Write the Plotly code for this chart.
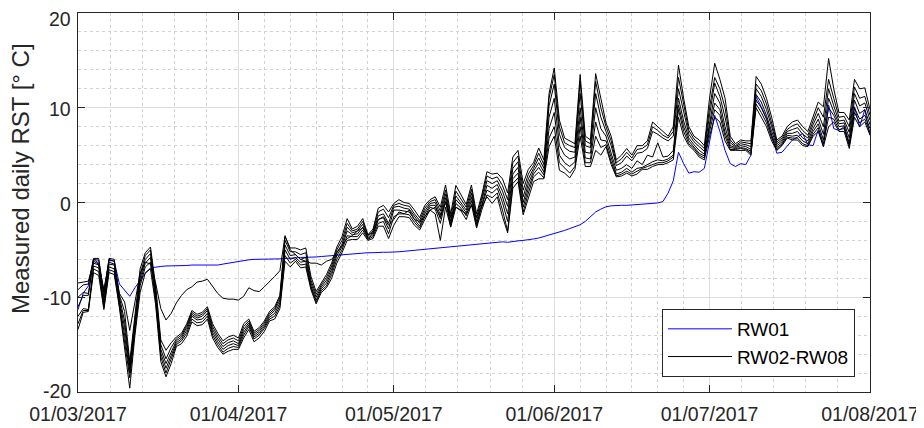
import pandas as pd
import plotly.graph_objects as go

# ---------------- data (daily values, 01/03/2017 .. 01/08/2017) ----------------
start_date = "2017-03-01"
n_days = 154

RW01 = [
    -11.3, -9.6, -8.8, -6.0, -6.4, -9.4, -6.1, -6.2, -8.6, -9.3,
    -9.9, -9.0, -8.2, -7.5, -6.9, -6.8, -6.75, -6.7, -6.7, -6.7,
    -6.65, -6.65, -6.6, -6.6, -6.6, -6.55, -6.6, -6.6, -6.5, -6.4,
    -6.3, -6.2, -6.1, -6.05, -6.0, -6.0, -6.0, -6.0, -6.0, -5.95,
    -5.9, -5.9, -5.85, -5.8, -5.8, -5.8, -5.75, -5.7, -5.65, -5.6,
    -5.55, -5.5, -5.45, -5.4, -5.4, -5.35, -5.3, -5.3, -5.25, -5.25,
    -5.25, -5.25, -5.2, -5.15, -5.1, -5.05, -5.0, -4.95, -4.9, -4.85,
    -4.8, -4.75, -4.7, -4.65, -4.6, -4.5, -4.45, -4.4, -4.35, -4.3,
    -4.25, -4.2, -4.15, -4.2, -4.1, -4.05, -4.0, -3.95, -3.85, -3.75,
    -3.6, -3.45, -3.25, -3.1, -2.95, -2.75, -2.55, -2.35, -2.0, -1.5,
    -1.0, -0.7, -0.45, -0.35, -0.3, -0.3, -0.3, -0.25, -0.2, -0.2,
    -0.15, -0.1, -0.05, 0.1, 1.0, 2.3, 5.3, 4.1, 3.1, 3.25,
    3.2, 3.6, 6.5, 9.2, 7.5, 5.5, 4.1, 3.8, 4.1, 4.0,
    5.0, 11.2, 10.1, 8.9, 7.1, 5.2, 5.3, 5.9, 6.6, 6.9,
    7.3, 6.1, 6.0, 7.65, 5.9, 10.3, 7.8, 7.6, 8.0, 6.0,
    10.1, 8.0, 9.8, 7.1,
]

RW02 = [
    -8.5, -8.4, -8.3, -6.4, -6.6, -9.2, -6.3, -6.5, -9.6, -10.5,
    -13.5, -10.5, -7.5, -6.3, -6.5, -8.5, -11.2, -12.4, -11.7, -10.6,
    -9.8, -9.2, -8.9, -8.4, -8.3, -8.1, -8.8, -9.6, -10.1, -10.2,
    -10.2, -10.3, -9.9, -9.0, -9.3, -9.4, -8.9, -8.4, -7.8, -7.2,
    -3.5, -5.0, -5.5, -6.0, -6.2, -6.4, -6.4, -6.6, -6.2, -6.0,
    -5.3, -4.5, -3.8, -3.5, -3.0, -2.7, -3.4, -3.2, -1.8, -1.5,
    -2.4, -1.8, -1.0, -1.2, -0.8, -1.8, -2.0, -1.5, -0.8, -0.5,
    -1.5, 0.0, -1.5, -0.5, -0.8, -1.2, -0.3, -1.5, -0.5, 0.6,
    -0.1, 0.6, -1.5, -3.2, 1.5, 2.2, -1.3, 0.5, 2.2, 2.5,
    2.5, 5.9, 7.0, 3.4, 3.1, 2.6, 3.5, 7.0, 3.8, 3.8,
    5.5, 5.0, 5.9, 4.0, 2.7, 2.8, 3.1, 2.8, 3.0, 3.5,
    3.5, 3.8, 4.0, 4.0, 4.2, 4.5, 9.0, 7.0, 6.0, 5.5,
    4.8, 4.5, 7.0, 9.0, 8.5, 6.5, 5.5, 5.5, 5.5, 5.5,
    5.0, 10.0, 9.0, 8.0, 6.5, 5.5, 6.0, 6.8, 6.6, 6.6,
    6.0, 5.9, 7.0, 7.5, 5.9, 8.0, 8.5, 7.5, 7.5, 5.7,
    9.0, 8.0, 8.5, 7.1,
]

RW03 = [
    -9.2, -8.7, -8.6, -5.9, -5.9, -9.6, -5.9, -6.0, -9.8, -11.5,
    -16.8, -11.8, -7.0, -5.3, -4.7, -8.8, -14.5, -15.6, -14.8, -14.2,
    -13.8, -12.8, -11.4, -11.8, -11.6, -11.0, -12.8, -13.8, -14.6, -14.2,
    -14.0, -14.3, -12.8, -12.3, -13.6, -13.2, -12.5, -11.5, -11.0, -9.8,
    -3.6, -4.8, -4.8, -5.0, -4.8, -7.8, -9.4, -8.5, -7.6, -6.4,
    -4.7, -3.6, -1.7, -2.8, -2.5, -1.7, -3.4, -2.8, -0.6, -0.3,
    -1.0, -0.1, 0.3, 0.0, -0.1, -0.8, -1.6, -0.3, 0.3, 0.6,
    -0.5, 1.85, -1.2, 1.8, 0.8, -0.2, 1.85, -1.2, 0.8, 3.25,
    3.0, 3.1, 2.5, 1.0, 4.8, 5.5, 2.0, 3.5, 4.2, 5.75,
    4.5, 11.5, 14.2, 8.7, 6.8, 6.5, 6.2, 13.5, 7.0, 6.6,
    13.6, 11.0, 8.4, 7.0, 4.5, 5.0, 5.7, 5.0, 6.0, 6.0,
    6.5, 8.5, 8.0, 7.5, 7.0, 8.0, 14.5, 11.0, 8.0, 7.0,
    6.6, 6.0, 11.0, 14.7, 13.0, 11.0, 7.0, 6.2, 6.6, 6.5,
    6.5, 13.3, 12.5, 11.0, 9.0, 6.6, 7.0, 8.0, 8.5, 8.7,
    8.0, 7.5, 9.0, 10.6, 10.1, 15.2, 12.0, 9.5, 9.5, 8.7,
    13.0, 12.0, 12.1, 9.8,
]

RW04 = [
    -10.0, -9.5, -9.6, -6.0, -6.1, -10.0, -6.0, -6.2, -10.0, -12.5,
    -17.2, -12.3, -7.6, -5.6, -5.0, -9.2, -15.0, -16.5, -15.3, -14.4,
    -14.0, -13.0, -11.6, -12.0, -11.8, -11.2, -13.1, -14.1, -14.9, -14.5,
    -14.3, -14.6, -13.1, -12.5, -13.8, -13.4, -12.7, -11.7, -11.2, -10.0,
    -4.0, -5.2, -5.2, -5.5, -5.3, -8.2, -9.7, -8.7, -7.9, -6.7,
    -5.0, -4.0, -2.2, -3.0, -2.8, -2.0, -3.5, -3.0, -1.0, -0.7,
    -1.6, -0.3, -0.1, -0.3, -0.4, -1.2, -1.9, -0.6, 0.1, 0.3,
    -0.9, 1.3, -1.6, 1.2, 0.4, -0.5, 1.4, -1.6, 0.5, 2.8,
    2.5, 2.7, 1.8, 0.3, 4.2, 4.9, 1.3, 3.0, 3.9, 5.2,
    4.0, 11.0, 13.5, 8.0, 6.3, 6.0, 5.8, 12.8, 6.5, 6.2,
    12.8, 10.0, 8.0, 6.5, 4.2, 4.6, 5.3, 4.7, 5.6, 5.7,
    6.1, 8.0, 7.6, 7.1, 6.8, 7.5, 13.2, 10.2, 7.6, 6.7,
    6.2, 5.7, 10.0, 13.2, 12.0, 10.0, 6.6, 6.0, 6.4, 6.3,
    6.2, 12.5, 11.8, 10.4, 8.5, 6.4, 6.8, 7.7, 8.1, 8.3,
    7.6, 7.1, 8.6, 10.0, 9.0, 13.0, 11.0, 9.0, 9.1, 8.0,
    12.2, 11.0, 11.2, 9.2,
]

RW05 = [
    -11.0, -9.8, -9.8, -6.2, -6.5, -10.4, -6.5, -6.6, -10.3, -13.2,
    -17.6, -12.8, -8.0, -6.0, -5.4, -9.6, -15.5, -17.0, -15.8, -14.6,
    -14.2, -13.2, -11.8, -12.2, -12.0, -11.4, -13.4, -14.4, -15.2, -14.8,
    -14.6, -14.9, -13.4, -12.7, -14.0, -13.6, -12.9, -11.9, -11.4, -10.3,
    -4.5, -5.6, -5.5, -6.0, -5.8, -8.5, -10.0, -8.9, -8.2, -7.0,
    -5.3, -4.4, -2.6, -3.2, -3.0, -2.3, -3.7, -3.2, -1.4, -1.2,
    -2.2, -0.5, -0.4, -0.6, -0.7, -1.5, -2.2, -0.9, -0.1, 0.0,
    -1.3, 0.9, -2.0, 0.7, 0.0, -0.8, 1.0, -2.0, 0.2, 2.3,
    2.0, 2.3, 1.2, -0.4, 3.6, 4.3, 0.6, 2.5, 3.6, 4.7,
    3.6, 10.2, 12.5, 7.2, 5.8, 5.4, 5.3, 11.5, 6.0, 5.8,
    11.5, 9.0, 7.5, 6.0, 3.9, 4.2, 4.9, 4.4, 5.2, 5.3,
    5.7, 7.5, 7.2, 6.8, 6.5, 7.0, 12.0, 9.5, 7.2, 6.4,
    5.9, 5.4, 9.2, 12.6, 11.2, 9.0, 6.3, 5.9, 6.2, 6.1,
    5.9, 12.0, 11.2, 9.8, 8.0, 6.2, 6.6, 7.5, 7.7, 7.9,
    7.2, 6.8, 8.2, 9.4, 8.0, 12.0, 10.2, 8.6, 8.7, 7.4,
    11.5, 10.2, 10.5, 8.7,
]

RW06 = [
    -12.0, -11.2, -11.3, -6.7, -6.9, -10.8, -6.8, -7.0, -10.6, -14.0,
    -18.0, -13.2, -8.4, -6.4, -5.8, -10.0, -15.9, -17.5, -16.2, -14.8,
    -14.4, -13.5, -12.0, -12.4, -12.3, -11.7, -13.7, -14.7, -15.5, -15.1,
    -14.9, -15.1, -13.7, -12.9, -14.2, -13.8, -13.1, -12.1, -11.7, -10.6,
    -5.0, -6.0, -5.8, -6.3, -6.2, -8.8, -10.3, -9.1, -8.5, -7.3,
    -5.6, -4.7, -3.0, -3.4, -3.3, -2.6, -3.8, -3.4, -1.8, -1.6,
    -2.8, -0.8, -0.8, -0.9, -1.0, -1.8, -2.5, -1.2, -0.3, -0.3,
    -1.7, 0.5, -2.3, 0.3, -0.3, -1.1, 0.6, -2.3, -0.1, 1.8,
    1.5, 1.9, 0.6, -1.2, 3.0, 3.7, 0.0, 2.0, 3.3, 4.2,
    3.2, 9.0, 11.0, 6.0, 5.0, 4.6, 4.8, 10.0, 5.3, 5.2,
    10.0, 7.8, 7.0, 5.3, 3.4, 3.6, 4.0, 3.6, 4.4, 4.0,
    5.0, 4.8, 6.3, 4.8, 4.9, 5.5, 11.0, 8.6, 6.8, 6.1,
    5.5, 5.1, 8.5, 11.5, 10.5, 8.0, 6.0, 5.8, 6.0, 5.9,
    5.6, 11.4, 10.6, 9.2, 7.5, 6.0, 6.4, 7.3, 7.3, 7.5,
    6.8, 6.5, 7.8, 8.8, 7.2, 11.0, 9.6, 8.3, 8.4, 6.8,
    10.8, 9.4, 9.8, 8.2,
]

RW07 = [
    -12.8, -11.4, -11.4, -7.0, -7.3, -11.1, -7.1, -7.3, -10.9, -14.6,
    -18.5, -13.6, -8.8, -6.8, -6.3, -10.4, -16.3, -18.0, -16.6, -15.0,
    -14.6, -13.8, -12.3, -12.7, -12.6, -12.0, -14.0, -15.0, -15.8, -15.4,
    -15.2, -15.3, -14.0, -13.1, -14.4, -14.0, -13.3, -12.3, -12.0, -10.9,
    -5.6, -6.4, -6.0, -6.6, -6.5, -9.0, -10.5, -9.3, -8.8, -7.6,
    -6.0, -5.0, -3.5, -3.6, -3.6, -2.9, -3.9, -3.6, -2.2, -2.0,
    -3.3, -1.5, -1.2, -1.2, -1.3, -2.1, -2.7, -1.5, -0.5, -0.7,
    -2.2, 0.1, -2.5, -0.1, -0.6, -1.4, 0.2, -2.5, -0.4, 1.3,
    1.0, 1.5, 0.0, -2.0, 2.5, 3.1, -0.5, 1.5, 3.0, 3.7,
    2.9, 7.8, 9.5, 5.0, 4.2, 3.8, 4.3, 9.0, 4.7, 4.6,
    8.5, 6.6, 6.5, 4.7, 3.0, 3.2, 3.6, 3.2, 3.6, 3.7,
    4.0, 4.3, 4.5, 4.4, 4.6, 5.0, 10.3, 8.0, 6.5, 5.9,
    5.2, 4.9, 8.0, 10.5, 9.8, 7.4, 5.8, 5.7, 5.8, 5.7,
    5.4, 10.8, 10.0, 8.8, 7.1, 5.8, 6.2, 7.1, 7.0, 7.1,
    6.5, 6.2, 7.5, 8.3, 6.6, 10.0, 9.2, 8.0, 8.1, 6.3,
    10.0, 8.8, 9.2, 7.8,
]

RW08 = [
    -13.4, -11.6, -11.5, -7.4, -7.7, -11.3, -7.4, -7.6, -11.1, -15.2,
    -19.6, -14.0, -9.5, -7.4, -7.0, -10.8, -16.8, -18.4, -17.0, -15.2,
    -14.9, -14.1, -12.6, -13.0, -12.9, -12.3, -14.3, -15.3, -16.0, -15.7,
    -15.5, -15.5, -14.3, -13.4, -14.7, -14.3, -13.6, -12.5, -12.3, -11.2,
    -6.2, -6.8, -6.2, -6.9, -6.8, -9.2, -10.7, -9.5, -9.0, -8.0,
    -6.4, -5.3, -4.0, -3.9, -3.9, -3.2, -4.0, -3.8, -2.5, -2.5,
    -3.8, -2.4, -1.5, -1.5, -1.6, -2.4, -2.9, -1.8, -0.8, -1.2,
    -4.0, -0.5, -2.6, -0.5, -0.9, -1.8, -0.2, -2.7, -0.8, 0.8,
    0.5, 1.0, -0.8, -3.0, 2.0, 2.6, -1.0, 1.0, 2.7, 3.2,
    2.6, 6.8, 8.0, 4.2, 3.6, 3.1, 3.8, 8.0, 4.2, 4.2,
    7.0, 5.8, 6.1, 4.3, 2.8, 3.0, 3.3, 3.0, 3.3, 3.6,
    3.8, 4.0, 4.2, 4.2, 4.4, 4.8, 9.8, 7.5, 6.2, 5.7,
    5.0, 4.7, 7.5, 9.8, 9.2, 7.0, 5.6, 5.6, 5.7, 5.6,
    5.2, 10.4, 9.5, 8.4, 6.8, 5.6, 6.1, 6.9, 6.8, 6.8,
    6.2, 6.0, 7.2, 7.9, 6.2, 9.0, 8.8, 7.7, 7.8, 6.0,
    9.5, 8.4, 8.8, 7.4,
]

black_series = [RW02, RW03, RW04, RW05, RW06, RW07, RW08]

x_tick_dates = ["2017-03-01", "2017-04-01", "2017-05-01", "2017-06-01", "2017-07-01", "2017-08-01"]
x_tick_labels = ["01/03/2017", "01/04/2017", "01/05/2017", "01/06/2017", "01/07/2017", "01/08/2017"]
y_ticks = [-20, -10, 0, 10, 20]
y_tick_labels = ["-20", "-10", "0", "10", "20"]

# ---------------- build ----------------
dates = pd.date_range(start_date, periods=n_days, freq="D")

# minor grid: each month split into equal parts (5 for 31-day months, 6 for 30-day)
minor_x = []
for a, b in zip(x_tick_dates[:-1], x_tick_dates[1:]):
    ta, tb = pd.Timestamp(a), pd.Timestamp(b)
    span = tb - ta
    parts = 5 if span.days == 31 else 6
    for k in range(1, parts):
        minor_x.append((ta + span * k / parts).strftime("%Y-%m-%d %H:%M:%S"))
minor_y = [v for v in range(-18, 20, 2) if v % 10 != 0]

FONT = "Liberation Sans, Arial, Helvetica, sans-serif"
AX = "#262626"
MINOR = "#d2d2d2"

fig = go.Figure()
fig.add_trace(go.Scatter(x=dates, y=RW01, mode="lines", name="RW01",
                         line=dict(color="#0000ff", width=1)))
for i, s in enumerate(black_series):
    fig.add_trace(go.Scatter(x=dates, y=s, mode="lines", name="RW02-RW08",
                             legendgroup="rw", showlegend=(i == 0),
                             line=dict(color="#000000", width=1)))

fig.update_xaxes(
    type="date", range=["2017-03-01", "2017-08-01"],
    tickmode="array", tickvals=x_tick_dates, ticktext=x_tick_labels,
    ticks="inside", ticklen=7, tickcolor=AX, tickwidth=1,
    showline=True, linecolor=AX, linewidth=1, mirror="ticks",
    showgrid=True, gridcolor="#dedede", gridwidth=1,
    zeroline=False, ticklabelstandoff=5, ticklabeloverflow="allow",
    tickfont=dict(family=FONT, size=19.5, color=AX),
    minor=dict(tickmode="array", tickvals=minor_x, showgrid=True,
               gridcolor=MINOR, griddash="dot", gridwidth=1, ticks=""),
)
fig.update_yaxes(
    range=[-20, 20], tickmode="array", tickvals=y_ticks, showticklabels=False,
    ticks="inside", ticklen=7, tickcolor=AX, tickwidth=1,
    showline=True, linecolor=AX, linewidth=1, mirror="ticks",
    showgrid=True, gridcolor="#dedede", gridwidth=1,
    zeroline=False,
    minor=dict(tickmode="array", tickvals=minor_y, showgrid=True,
               gridcolor=MINOR, griddash="dot", gridwidth=1, ticks=""),
)

# y tick labels as text placed on the y axis values (top one nudged to stay on canvas)
label_nudge = {-20: 1, -10: -1, 0: -1, 10: -1, 20: -6}
for v, lab in zip(y_ticks, y_tick_labels):
    fig.add_annotation(
        text=lab, xref="paper", yref="y", x=0, y=v,
        xanchor="right", yanchor="middle", xshift=-5, yshift=label_nudge[v],
        showarrow=False, font=dict(family=FONT, size=19.5, color=AX),
    )

fig.add_annotation(
    text="Measured daily RST [° C]", textangle=-90,
    xref="paper", yref="paper", x=0, y=0.562, xanchor="center", yanchor="middle",
    xshift=-58, showarrow=False, font=dict(family=FONT, size=24, color=AX),
)

fig.update_layout(
    width=916, height=420, autosize=False,
    margin=dict(l=70, r=54, t=5, b=36, autoexpand=False),
    paper_bgcolor="white", plot_bgcolor="white",
    font=dict(family=FONT, size=19.5, color=AX),
    showlegend=True,
    legend=dict(x=0.981, y=0.0396, xanchor="right", yanchor="bottom",
                bgcolor="white", bordercolor=AX, borderwidth=1,
                font=dict(family=FONT, size=19, color="#000000"),
                itemwidth=64, tracegroupgap=0),
    hovermode=False,
)

fig.write_html("out.html")
